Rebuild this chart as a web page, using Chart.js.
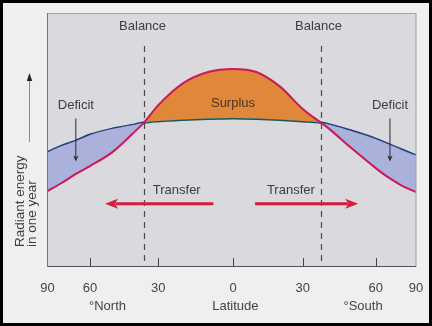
<!DOCTYPE html>
<html><head><meta charset="utf-8">
<script src="https://cdn.jsdelivr.net/npm/chart.js@4/dist/chart.umd.min.js"></script>
<style>html,body{margin:0;padding:0;background:#efeef0;}canvas{display:block;}</style>
</head><body>
<canvas id="c" width="432" height="326"></canvas>
<script>
// ---- data ----
const latitudes = [90, 80, 70, 60, 50, 40, 36.3, 30, 20, 10, 0, -10, -20, -30, -37.4, -40, -50, -60, -70, -80, -90];
const incoming  = [29.6, 32.8, 36.4, 39.5, 45.1, 53.4, 56.7, 63.6, 72.3, 76.7, 77.9, 76.7, 71.1, 62.1, 56.7, 54.9, 46.6, 38.7, 34.8, 31.6, 29.2];
const outgoing  = [44.9, 47.4, 49.4, 51.8, 54.2, 55.9, 56.7, 57.3, 57.9, 58.3, 58.5, 58.3, 57.9, 57.3, 56.7, 56.1, 53.4, 50.2, 48.0, 45.8, 43.7];
const balanceLatitudes = [36.3, -37.4];
// latitude axis is non-uniform: fraction of axis length at each tick
const tickLatitudes = [90, 60, 30, 0, -30, -60, -90];
const tickLabels = ['90', '60', '30', '0', '30', '60', '90'];
const tickAxisFraction = [0, 0.1153, 0.3007, 0.5034, 0.6926, 0.8907, 1];

function latToFrac(lat) {
  for (let i = 0; i < tickLatitudes.length - 1; i++) {
    const a = tickLatitudes[i], b = tickLatitudes[i + 1];
    if (lat <= a && lat >= b) return tickAxisFraction[i] + (a - lat) / (a - b) * (tickAxisFraction[i + 1] - tickAxisFraction[i]);
  }
  return lat > 90 ? 0 : 1;
}
function fracToLat(f) {
  for (let i = 0; i < tickAxisFraction.length - 1; i++) {
    const a = tickAxisFraction[i], b = tickAxisFraction[i + 1];
    if (f >= a && f <= b) return tickLatitudes[i] + (f - a) / (b - a) * (tickLatitudes[i + 1] - tickLatitudes[i]);
  }
  return f < 0 ? 90 : -90;
}
class LatitudeScale extends Chart.LinearScale {
  getPixelForValue(v) { return this.getPixelForDecimal(latToFrac(v)); }
  getValueForPixel(p) { return fracToLat(this.getDecimalForPixel(p)); }
}
LatitudeScale.id = 'latitude';
LatitudeScale.defaults = Chart.LinearScale.defaults;
Chart.register(LatitudeScale);

Chart.defaults.font.family = '"Liberation Sans", Arial, Helvetica, sans-serif';

const RED = '#cc1758', NAVY = '#1b3f84', TEAL = '#1f5757';
const ORANGE = '#e0873a', LAVENDER = '#aab2dc';

function arrow(ctx, x1, y1, x2, y2, color, lw, headLen, headW) {
  const ang = Math.atan2(y2 - y1, x2 - x1);
  ctx.save();
  ctx.strokeStyle = color; ctx.fillStyle = color; ctx.lineWidth = lw;
  ctx.beginPath();
  ctx.moveTo(x1, y1);
  ctx.lineTo(x2 - Math.cos(ang) * headLen * 0.8, y2 - Math.sin(ang) * headLen * 0.8);
  ctx.stroke();
  ctx.translate(x2, y2); ctx.rotate(ang);
  ctx.beginPath();
  ctx.moveTo(0, 0); ctx.lineTo(-headLen, -headW); ctx.lineTo(-headLen * 0.75, 0); ctx.lineTo(-headLen, headW);
  ctx.closePath(); ctx.fill();
  ctx.restore();
}

const annot = {
  id: 'annot',
  beforeDraw(chart) {
    const { ctx, chartArea: a } = chart;
    ctx.save();
    ctx.fillStyle = '#efeef0';
    ctx.fillRect(0, 0, chart.width, chart.height);
    ctx.fillStyle = '#dad9dd';
    ctx.fillRect(a.left, a.top, a.right - a.left, a.bottom - a.top);
    ctx.restore();
  },
  beforeDatasetsDraw(chart) {
    const { ctx, chartArea: a, scales: { x, y } } = chart;
    ctx.save();
    ctx.strokeStyle = '#4a4a4a'; ctx.lineWidth = 1.2; ctx.setLineDash([6, 5]);
    balanceLatitudes.forEach(lat => {
      const px = Math.round(x.getPixelForValue(lat)) + 0.5;
      ctx.beginPath(); ctx.moveTo(px, y.getPixelForValue(87)); ctx.lineTo(px, a.bottom); ctx.stroke();
    });
    ctx.restore();
  },
  afterDraw(chart) {
    const { ctx, chartArea: a, scales: { x, y } } = chart;
    ctx.save();
    // inward tick marks
    ctx.strokeStyle = '#444'; ctx.lineWidth = 1;
    tickLatitudes.slice(1, -1).forEach(lat => {
      const px = Math.round(x.getPixelForValue(lat)) + 0.5;
      ctx.beginPath(); ctx.moveTo(px, a.bottom - 8); ctx.lineTo(px, a.bottom); ctx.stroke();
    });
    // plot frame
    ctx.strokeStyle = '#a2a2a4';
    ctx.strokeRect(a.left, a.top + 0.5, a.right - a.left, a.bottom - a.top);
    ctx.strokeStyle = '#555';
    ctx.beginPath(); ctx.moveTo(a.left, a.bottom + 0.5); ctx.lineTo(a.right, a.bottom + 0.5); ctx.stroke();
    ctx.beginPath(); ctx.moveTo(a.left, a.top); ctx.lineTo(a.left, a.bottom); ctx.strokeStyle = '#777'; ctx.stroke();

    const txt = (s, lat, val, color, size) => {
      ctx.fillStyle = color || '#3d3d3d';
      ctx.font = (size || 13) + 'px "Liberation Sans", Arial, sans-serif';
      ctx.textAlign = 'center'; ctx.textBaseline = 'middle';
      ctx.fillText(s, x.getPixelForValue(lat), y.getPixelForValue(val));
    };
    txt('Balance', 36.9, 94.5);
    txt('Balance', -36.5, 94.5);
    txt('Deficit', 70, 63.6);
    txt('Deficit', -70.6, 63.6);
    txt('Surplus', 0, 64.4, '#4a3424');
    txt('Transfer', 22.6, 30.0);
    txt('Transfer', -24.9, 30.0);
    // deficit arrows
    arrow(ctx, x.getPixelForValue(70), y.getPixelForValue(58.3), x.getPixelForValue(70), y.getPixelForValue(41.3), '#2a2a2a', 1, 6, 2.6);
    arrow(ctx, x.getPixelForValue(-70.6), y.getPixelForValue(58.3), x.getPixelForValue(-70.6), y.getPixelForValue(41.3), '#2a2a2a', 1, 6, 2.6);
    // transfer arrows
    arrow(ctx, x.getPixelForValue(7.9), y.getPixelForValue(24.6), x.getPixelForValue(53.4), y.getPixelForValue(24.6), '#d01e3c', 3, 13, 5);
    arrow(ctx, x.getPixelForValue(-9.5), y.getPixelForValue(24.6), x.getPixelForValue(-52.8), y.getPixelForValue(24.6), '#d01e3c', 3, 13, 5);
    // axis subtitles
    ctx.fillStyle = '#444'; ctx.font = '13px "Liberation Sans", Arial, sans-serif';
    ctx.textAlign = 'center'; ctx.textBaseline = 'middle';
    ctx.fillText('°North', x.getPixelForValue(52.3), a.bottom + 40);
    ctx.fillText('Latitude', x.getPixelForValue(-1), a.bottom + 40);
    ctx.fillText('°South', x.getPixelForValue(-54.8), a.bottom + 40);
    // y axis title + arrow
    ctx.save();
    ctx.font = '13.5px "Liberation Sans", Arial, sans-serif';
    ctx.textAlign = 'left'; ctx.textBaseline = 'middle'; ctx.fillStyle = '#3d3d3d';
    ctx.translate(20, 247); ctx.rotate(-Math.PI / 2);
    ctx.fillText('Radiant energy', 0, 0);
    ctx.fillText('in one year', 0, 12.5);
    ctx.restore();
    ctx.strokeStyle = '#8a8a8a'; ctx.lineWidth = 1;
    ctx.beginPath(); ctx.moveTo(29.5, 142); ctx.lineTo(29.5, 79); ctx.stroke();
    ctx.fillStyle = '#222';
    ctx.beginPath(); ctx.moveTo(29.5, 73); ctx.lineTo(26.8, 81); ctx.lineTo(32.2, 81); ctx.closePath(); ctx.fill();
    // outer black frame
    ctx.strokeStyle = '#000'; ctx.lineWidth = 3;
    ctx.strokeRect(1.5, 1.5, chart.width - 3, chart.height - 3);
    ctx.restore();
  }
};

new Chart(document.getElementById('c'), {
  type: 'line',
  data: {
    datasets: [
      {
        label: 'Incoming',
        data: latitudes.map((lat, i) => ({ x: lat, y: incoming[i] })),
        borderColor: RED, borderWidth: 2, pointRadius: 0,
        cubicInterpolationMode: 'monotone',
        fill: { target: 1, above: ORANGE, below: LAVENDER }
      },
      {
        label: 'Outgoing',
        data: latitudes.map((lat, i) => ({ x: lat, y: outgoing[i] })),
        borderColor: NAVY, borderWidth: 2.8, pointRadius: 0,
        cubicInterpolationMode: 'monotone', fill: false,
        segment: {
          borderColor: c => (c.p0.parsed.x <= balanceLatitudes[0] + 0.01 && c.p1.parsed.x >= balanceLatitudes[1] - 0.01) ? TEAL : NAVY
        }
      }
    ]
  },
  options: {
    responsive: false, animation: false,
    layout: { padding: { left: 47.5, top: 13, right: 16, bottom: 0 } },
    plugins: { legend: { display: false }, tooltip: { enabled: false } },
    scales: {
      x: {
        type: 'latitude', min: -90, max: 90,
        afterBuildTicks: s => { s.ticks = tickLatitudes.map(v => ({ value: v })); },
        afterFit: s => { s.height = 60; },
        grid: { display: false }, border: { display: false },
        ticks: { autoSkip: false, maxRotation: 0, padding: 7, color: '#444', font: { size: 13 },
                 callback: (v, i) => tickLabels[i] }
      },
      y: { display: false, min: 0, max: 100 }
    }
  },
  plugins: [annot]
});
</script>
</body></html>
